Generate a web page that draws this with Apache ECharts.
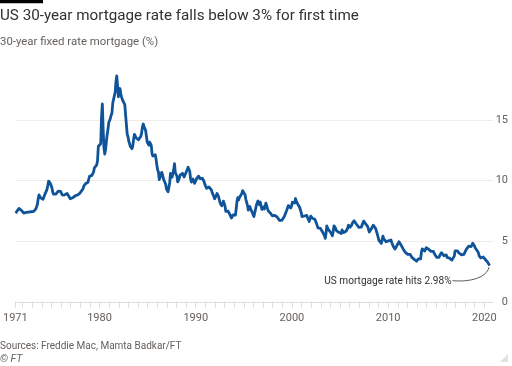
<!DOCTYPE html>
<html><head><meta charset="utf-8">
<script src="https://cdn.jsdelivr.net/npm/echarts@6/dist/echarts.min.js"></script>
<style>html,body{margin:0;padding:0;background:#fff}#c{width:512px;height:366px}</style>
</head><body><div id="c"></div>
<script>
// Monthly 30-year fixed mortgage rate (%), starting April 1971
const startYear = 1971;
const startMonth = 4;
const rates1970s = [
  7.31,7.43,7.53,7.60,7.70,7.69,7.63,7.55,7.48,
  7.44,7.32,7.29,7.29,7.37,7.37,7.40,7.40,7.42,7.43,7.43,7.44,
  7.44,7.44,7.46,7.54,7.65,7.73,8.05,8.50,8.82,8.77,8.58,8.54,
  8.54,8.46,8.41,8.58,8.97,9.09,9.28,9.59,9.96,9.98,9.79,9.62,
  9.43,9.10,8.89,8.82,8.91,8.89,8.87,8.94,9.13,9.22,9.15,9.10,
  9.02,8.81,8.76,8.73,8.83,8.92,8.93,8.93,8.82,8.72,8.63,8.50,
  8.40,8.50,8.58,8.65,8.73,8.74,8.74,8.81,8.81,8.87,8.89,8.96,
  9.02,9.15,9.20,9.35,9.57,9.71,9.74,9.78,9.76,9.86,10.11,10.35,
  10.39,10.41,10.43,10.50,10.69,11.04,11.09,11.09,11.30,11.64,12.83,12.90
];
const rates1980s = [
  12.88,13.04,15.28,16.32,14.26,12.71,12.19,12.56,13.20,13.79,14.21,14.79,
  14.90,15.13,15.40,15.58,16.40,16.70,16.83,17.29,18.16,18.63,17.83,16.92,
  17.40,17.60,17.16,16.89,16.68,16.70,16.82,16.27,15.43,14.61,13.83,13.62,
  13.25,13.04,12.80,12.78,12.63,12.87,13.42,13.81,13.73,13.54,13.44,13.42,
  13.37,13.23,13.39,13.65,13.94,14.42,14.67,14.47,14.35,14.13,13.64,13.18,
  13.08,12.92,13.17,13.20,12.91,12.22,12.03,12.19,12.19,12.14,11.78,11.26,
  10.88,10.71,10.08,9.94,10.14,10.68,10.51,10.20,10.01,9.98,9.70,9.31,
  9.20,9.08,9.04,9.83,10.60,10.54,10.28,10.33,10.89,11.40,10.65,10.64,
  10.38,9.89,9.93,10.20,10.46,10.46,10.43,10.60,10.48,10.30,10.27,10.61,
  10.73,10.65,11.10,11.05,10.77,10.20,9.88,9.99,10.13,9.95,9.77,9.74
];
const rates1990s = [
  9.90,10.20,10.27,10.37,10.48,10.16,10.04,10.10,10.18,10.17,9.89,9.67,
  9.64,9.37,9.50,9.49,9.47,9.62,9.58,9.24,9.01,8.86,8.71,8.50,
  8.43,8.76,8.94,8.85,8.67,8.51,8.13,7.98,7.92,8.09,8.31,8.22,
  7.91,7.47,7.47,7.47,7.47,7.42,7.21,7.11,6.91,6.83,7.16,7.17,
  7.06,7.15,7.68,8.32,8.60,8.40,8.61,8.51,8.64,8.93,9.17,9.20,
  9.15,8.83,8.46,8.32,7.96,7.57,7.61,7.86,7.64,7.48,7.38,7.20,
  7.03,7.08,7.62,7.93,8.07,8.32,8.25,8.00,8.23,7.92,7.62,7.60,
  7.82,7.65,7.90,8.14,7.94,7.69,7.50,7.48,7.43,7.29,7.21,7.10,
  6.99,7.04,7.13,7.14,7.14,7.00,6.95,6.92,6.72,6.71,6.87,6.72,
  6.79,6.81,7.04,6.92,7.15,7.55,7.63,7.94,7.82,7.85,7.74,7.91
];
const rates2000s = [
  8.21,8.33,8.24,8.15,8.52,8.29,8.15,8.03,7.91,7.80,7.75,7.38,
  7.03,7.05,6.95,7.08,7.15,7.16,7.13,6.95,6.82,6.62,6.66,7.07,
  7.00,6.89,7.01,6.99,6.81,6.65,6.49,6.29,6.09,6.11,6.07,6.05,
  5.92,5.84,5.75,5.81,5.48,5.23,5.63,6.26,6.15,5.95,5.93,5.88,
  5.71,5.64,5.45,5.83,6.27,6.29,6.06,5.87,5.75,5.72,5.73,5.75,
  5.71,5.63,5.93,5.86,5.72,5.58,5.70,5.82,5.77,6.07,6.33,6.27,
  6.15,6.25,6.32,6.51,6.60,6.68,6.76,6.52,6.40,6.36,6.24,6.14,
  6.22,6.29,6.16,6.18,6.26,6.66,6.70,6.57,6.38,6.38,6.21,6.10,
  5.76,5.92,5.97,5.92,6.04,6.32,6.43,6.48,6.04,6.20,6.09,5.33,
  5.06,5.13,5.00,4.81,4.86,5.42,5.22,5.19,5.06,4.95,4.88,4.93
];
const rates2010s = [
  5.03,4.99,4.97,5.10,4.89,4.74,4.56,4.43,4.35,4.23,4.30,4.71,
  4.76,4.95,4.84,4.84,4.64,4.51,4.55,4.27,4.11,4.07,3.99,3.96,
  3.92,3.89,3.95,3.91,3.80,3.68,3.55,3.60,3.50,3.38,3.35,3.35,
  3.41,3.53,3.57,3.45,3.54,4.07,4.37,4.46,4.49,4.19,4.26,4.46,
  4.43,4.30,4.34,4.34,4.19,4.16,4.13,4.12,4.16,3.98,4.00,3.86,
  3.67,3.71,3.77,3.67,3.84,3.98,4.05,3.91,3.89,3.80,3.94,3.96,
  3.87,3.66,3.69,3.61,3.60,3.57,3.44,3.44,3.46,3.47,3.77,4.20,
  4.15,4.17,4.20,4.05,4.01,3.90,3.97,3.88,3.81,3.90,3.92,3.95,
  4.03,4.33,4.44,4.47,4.59,4.57,4.53,4.55,4.63,4.83,4.87,4.64,
  4.46,4.37,4.27,4.14,4.07,3.80,3.77,3.62,3.61,3.69,3.70,3.72
];
const rates2020 = [3.62,3.47,3.45,3.31,3.23,3.16];
const lastPoint = [2020.54, 2.98];

const xTickYears = [1971.25];
for (let y = 1972; y <= 2020; y++) xTickYears.push(y);
const xLabelYears = [1971.25, 1980, 1990, 2000, 2010, 2020];

const titleText = 'US 30-year mortgage rate falls below 3% for first time';
const subtitleText = '30-year fixed rate mortgage (%)';
const sourceText = 'Sources: Freddie Mac, Mamta Badkar/FT';
const copyrightText = '© FT';
const annotationText = 'US mortgage rate hits 2.98%';

const allRates = [].concat(rates1970s, rates1980s, rates1990s, rates2000s, rates2010s, rates2020);
const seriesData = allRates.map((v, i) => [startYear + (startMonth - 1 + i) / 12 + 1 / 24, v]);
seriesData.push(lastPoint);

const FONT = 'Roboto';
const chart = echarts.init(document.getElementById('c'));
chart.setOption({
  backgroundColor: '#ffffff',
  animation: false,
  textStyle: { fontFamily: FONT },
  title: [
    { text: titleText, left: 0, top: 9, padding: 0,
      textStyle: { fontFamily: FONT, fontSize: 15.2, fontWeight: 'normal', color: '#33302e' } },
    { text: subtitleText, left: 0, top: 37, padding: 0,
      textStyle: { fontFamily: FONT, fontSize: 11.4, fontWeight: 'normal', color: '#66605c' } },
    { text: sourceText, left: 0, top: 341, padding: 0,
      textStyle: { fontFamily: FONT, fontSize: 10, fontWeight: 'normal', color: '#66605c' } },
    { text: copyrightText, left: 0, top: 354, padding: 0,
      textStyle: { fontFamily: FONT, fontSize: 10.5, fontWeight: 'normal', fontStyle: 'italic', color: '#66605c' } }
  ],
  grid: { left: 11, right: 19, top: 120, bottom: 64.2, containLabel: false },
  xAxis: {
    type: 'value', min: 1971.25, max: 2020.9,
    axisLine: { show: true, onZero: false, lineStyle: { color: '#e2dcd6', width: 1 } },
    axisTick: { show: true, length: 6, lineStyle: { color: '#e2dcd6' }, customValues: xTickYears },
    axisLabel: { show: true, color: '#66605c', fontSize: 11, margin: 11, customValues: xLabelYears,
      formatter: v => String(Math.floor(v)) },
    splitLine: { show: false }
  },
  yAxis: {
    type: 'value', position: 'right', min: 0, max: 15, interval: 5,
    axisLine: { show: false }, axisTick: { show: false },
    axisLabel: { color: '#66605c', fontSize: 11, margin: 15, align: 'right' },
    splitLine: { show: true, lineStyle: { color: '#f0ebe6', width: 1 } }
  },
  series: [{
    type: 'line', data: seriesData, showSymbol: false, clip: false, z: 5,
    lineStyle: { color: '#0f5499', width: 2.8, join: 'round' }
  }]
});

const p = chart.convertToPixel({ seriesIndex: 0 }, lastPoint);
const px = p[0], py = p[1];
chart.setOption({
  graphic: [
    { type: 'rect', left: 0, top: 0, shape: { x: 0, y: 0, width: 43, height: 3.3 }, style: { fill: '#000' } },
    { type: 'text', x: px - 38, y: py + 16, style: { text: annotationText, fill: '#33302e', fontFamily: FONT,
        fontSize: 10.1, align: 'right', verticalAlign: 'middle' }, z: 10 },
    { type: 'bezierCurve', shape: { x1: px - 37, y1: py + 15, cpx1: px - 19, cpy1: py + 16.5, cpx2: px - 3, cpy2: py + 12, x2: px - 0.5, y2: py + 1.5 },
      style: { stroke: '#33302e', lineWidth: 0.8, fill: null }, z: 10 },
    { type: 'polygon', shape: { points: [[508, 354], [508, 362], [500, 362]] }, style: { fill: '#e2e2e2' } }
  ]
});
</script>
</body></html>
